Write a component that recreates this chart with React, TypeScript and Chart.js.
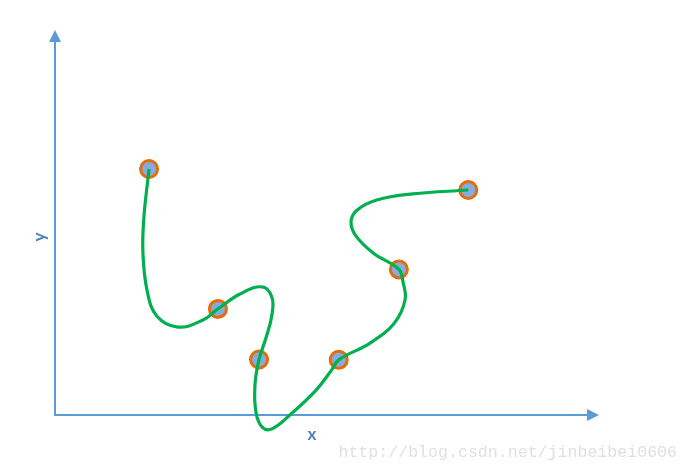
import React, { useEffect, useRef } from "react";
import { Chart, registerables } from "chart.js";

Chart.register(...registerables);

// Marked points (data units: both axes 0..100)
const pointX = [18.3, 31.7, 39.7, 55.2, 66.9, 80.4];
const pointY = [69.1, 29.8, 15.6, 15.5, 40.9, 63.2];

// Waypoints of the hand-drawn green curve
const curveX = [18.3, 17.3, 17.1, 17.9, 19.8, 23.9, 28.8, 31.7, 36.0, 40.3, 42.2, 42.2, 41.1, 39.7, 38.9, 39.1, 40.3, 42.2, 45.7, 50.8, 53.8, 55.2, 61.3, 66.0, 68.1, 67.7, 66.9, 61.9, 58.4, 57.6, 58.8, 62.6, 69.6, 80.4];
const curveY = [69.1, 55.6, 45.8, 35.1, 27.8, 24.7, 26.7, 29.8, 34.0, 36.0, 33.1, 28.1, 21.9, 15.6, 8.4, 0.8, -3.4, -3.9, 0.0, 7.0, 12.6, 15.5, 20.2, 25.8, 32.3, 37.4, 40.9, 45.5, 50.6, 54.5, 57.6, 60.4, 62.1, 63.2];

const xTitle = "x";
const yTitle = "y";
const watermark = "http://blog.csdn.net/jinbeibei0606";

const AXIS_COLOR = "#5b9bd5";
const TITLE_COLOR = "#4f81bd";

const axesPlugin = {
  id: "arrowAxes",
  beforeDatasetsDraw(chart: any) {
    const { ctx, chartArea } = chart;
    const x0 = chart.scales.x.getPixelForValue(0);
    const y0 = chart.scales.y.getPixelForValue(0);
    const yTip = chartArea.top - 29;
    const xTip = chartArea.right + 30;
    const head = 12;
    const half = 6;
    ctx.save();
    ctx.strokeStyle = AXIS_COLOR;
    ctx.fillStyle = AXIS_COLOR;
    ctx.lineWidth = 2;
    ctx.beginPath();
    ctx.moveTo(x0, yTip + head);
    ctx.lineTo(x0, y0);
    ctx.lineTo(xTip - head, y0);
    ctx.stroke();
    ctx.beginPath();
    ctx.moveTo(x0, yTip);
    ctx.lineTo(x0 - half, yTip + head);
    ctx.lineTo(x0 + half, yTip + head);
    ctx.closePath();
    ctx.fill();
    ctx.beginPath();
    ctx.moveTo(xTip, y0);
    ctx.lineTo(xTip - head, y0 - half);
    ctx.lineTo(xTip - head, y0 + half);
    ctx.closePath();
    ctx.fill();
    ctx.restore();
  },
  afterDraw(chart: any) {
    const { ctx } = chart;
    ctx.save();
    ctx.font = '16.6px "Liberation Mono"';
    ctx.fillStyle = "#e0e0e0";
    ctx.textAlign = "right";
    ctx.textBaseline = "middle";
    ctx.fillText(watermark, 677, 453);
    ctx.restore();
  },
};

export default function App() {
  const ref = useRef<HTMLCanvasElement>(null);
  useEffect(() => {
    if (!ref.current) return;
    const chart = new Chart(ref.current, {
      type: "scatter",
      data: {
        datasets: [
          {
            label: "curve",
            data: curveX.map((x, i) => ({ x, y: curveY[i] })),
            showLine: true,
            borderColor: "#00b050",
            borderWidth: 3.2,
            pointRadius: 0,
            tension: 0.4,
            clip: false as any,
            order: 0,
          },
          {
            label: "points",
            data: pointX.map((x, i) => ({ x, y: pointY[i] })),
            showLine: false,
            pointRadius: 8.5,
            pointBorderWidth: 3,
            borderColor: "#e46c0a",
            backgroundColor: "#85acdc",
            clip: false as any,
            order: 1,
          },
        ],
      },
      options: {
        responsive: false,
        animation: false,
        layout: { padding: { left: 25, top: 59, right: 119, bottom: 24.6 } },
        plugins: { legend: { display: false }, tooltip: { enabled: false } },
        scales: {
          x: {
            type: "linear",
            min: 0,
            max: 100,
            grid: { display: false, drawTicks: false },
            border: { display: false },
            ticks: { display: false },
            title: {
              display: true,
              text: xTitle,
              color: TITLE_COLOR,
              font: { family: "Lato", size: 17, weight: "bold" },
              padding: { top: 9, bottom: 4 },
            },
          },
          y: {
            type: "linear",
            min: 0,
            max: 100,
            grid: { display: false, drawTicks: false },
            border: { display: false },
            ticks: { display: false },
            title: {
              display: true,
              text: yTitle,
              color: TITLE_COLOR,
              font: { family: "Lato", size: 17, weight: "bold" },
              padding: { top: 4, bottom: 5.6 },
            },
          },
        },
      },
      plugins: [axesPlugin],
    });
    return () => chart.destroy();
  }, []);
  return (
    <div style={{ position: "fixed", left: 0, top: 0, width: 688, height: 473, background: "#fff" }}>
      <canvas ref={ref} width={688} height={473} />
    </div>
  );
}
